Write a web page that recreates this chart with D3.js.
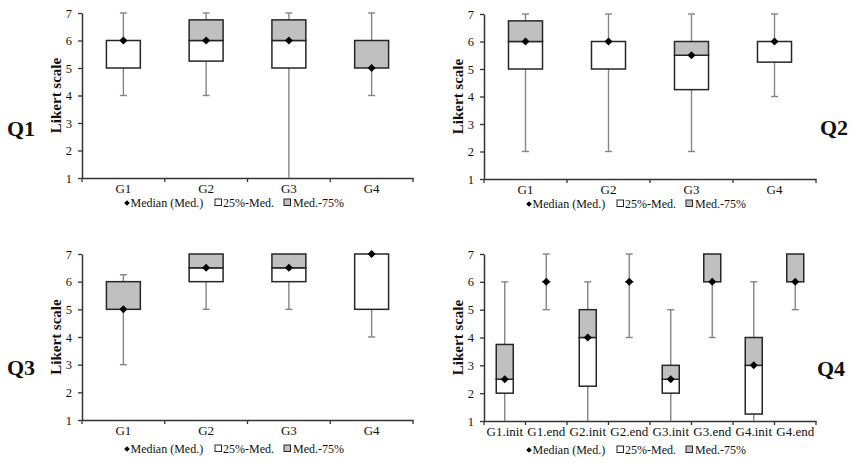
<!DOCTYPE html>
<html>
<head>
<meta charset="utf-8">
<script src="https://cdn.jsdelivr.net/npm/d3@7"></script>
<style>
  body { margin: 0; background: #fff; }
  svg text { font-family: "Liberation Serif", "Times New Roman", serif; fill: #111; }
</style>
</head>
<body>
<div id="chart"></div>
<script>
var svgWidth = 856;
var svgHeight = 463;
var serif = "'Liberation Serif', 'Times New Roman', serif";

// categories
var groups = ["G1", "G2", "G3", "G4"];
var groupsQ4 = ["G1.init", "G1.end", "G2.init", "G2.end", "G3.init", "G3.end", "G4.init", "G4.end"];
var yTicks = [1, 2, 3, 4, 5, 6, 7];
var legendLabels = ["Median (Med.)", "25%-Med.", "Med.-75%"];

// Q1
var q1Min = [4, 4, 1, 4];
var q1Low = [5, 5.25, 5, 5];
var q1Med = [6, 6, 6, 5];
var q1High = [6, 6.75, 6.75, 6];
var q1Max = [7, 7, 7, 7];

// Q2
var q2Min = [2, 2, 2, 4];
var q2Low = [5, 5, 4.25, 5.25];
var q2Med = [6, 6, 5.5, 6];
var q2High = [6.75, 6, 6, 6];
var q2Max = [7, 7, 7, 7];

// Q3
var q3Min = [3, 5, 5, 4];
var q3Low = [5, 6, 6, 5];
var q3Med = [5, 6.5, 6.5, 7];
var q3High = [6, 7, 7, 7];
var q3Max = [6.25, 7, 7, 7];

// Q4
var q4Min = [1, 5, 1, 4, 1, 4, 1, 5];
var q4Low = [2, 6, 2.25, 6, 2, 6, 1.25, 6];
var q4Med = [2.5, 6, 4, 6, 2.5, 6, 3, 6];
var q4High = [3.75, 6, 5, 6, 3, 7, 4, 7];
var q4Max = [6, 7, 6, 7, 5, 7, 6, 7];

var greyFill = "#c0c0c0";
var boxStroke = "#262626";
var whiskerColor = "#858585";

var svg = d3.select("#chart")
    .append("svg")
    .attr("width", svgWidth)
    .attr("height", svgHeight);

function buildRows(cats, mins, lows, meds, highs, maxs) {
    return cats.map(function(c, i) {
        return {cat: c, min: mins[i], low: lows[i], med: meds[i], high: highs[i], max: maxs[i]};
    });
}

// rotated square, like the Excel marker
function diamond(r) {
    return "M0," + (-r) + "L" + r + ",0L0," + r + "L" + (-r) + ",0Z";
}

var panels = [
    {name: "Q1", rows: buildRows(groups, q1Min, q1Low, q1Med, q1High, q1Max),
     x0: 82, x1: 413, y0: 13, y1: 178, labelX: 7, labelY: 128, titleX: 56, legendY: 207},
    {name: "Q2", rows: buildRows(groups, q2Min, q2Low, q2Med, q2High, q2Max),
     x0: 484, x1: 816, y0: 14, y1: 179, labelX: 820, labelY: 127, titleX: 458, legendY: 208},
    {name: "Q3", rows: buildRows(groups, q3Min, q3Low, q3Med, q3High, q3Max),
     x0: 82, x1: 413, y0: 254, y1: 420, labelX: 7, labelY: 367, titleX: 56, legendY: 453},
    {name: "Q4", rows: buildRows(groupsQ4, q4Min, q4Low, q4Med, q4High, q4Max),
     x0: 484, x1: 816, y0: 254, y1: 421, labelX: 817, labelY: 368, titleX: 458, legendY: 454}
];

panels.forEach(function(p) {
    var g = svg.append("g");

    var xScale = d3.scaleBand()
        .domain(p.rows.map(function(d) { return d.cat; }))
        .range([p.x0, p.x1])
        .paddingInner(0)
        .paddingOuter(0);

    var yScale = d3.scaleLinear()
        .domain([1, 7])
        .range([p.y1, p.y0]);

    var boxW = xScale.bandwidth() * 0.41;
    var capW = 7;

    // y axis
    var leftAxis = d3.axisLeft(yScale)
        .tickValues(yTicks)
        .tickSize(4)
        .tickSizeOuter(0)
        .tickPadding(6)
        .tickFormat(d3.format("d"));
    var yAxis = g.append("g")
        .attr("transform", "translate(" + p.x0 + ",0)")
        .call(leftAxis);
    yAxis.select(".domain").attr("stroke", "#333").attr("stroke-width", 1.5);
    yAxis.selectAll(".tick line").attr("stroke", "#333").attr("stroke-width", 1.3);
    yAxis.selectAll(".tick text")
        .style("font-family", serif)
        .style("font-size", "12.5px")
        .attr("fill", "#111");

    // x axis: labels from band scale, ticks on band edges
    var bottomAxis = d3.axisBottom(xScale).tickSize(0).tickPadding(6);
    var xAxis = g.append("g")
        .attr("transform", "translate(0," + p.y1 + ")")
        .call(bottomAxis);
    xAxis.select(".domain").attr("stroke", "#333").attr("stroke-width", 1.5);
    xAxis.selectAll(".tick text")
        .style("font-family", serif)
        .style("font-size", "13px")
        .attr("fill", "#111");

    var edges = p.rows.map(function(d) { return xScale(d.cat); }).concat([p.x1]);
    g.selectAll(".edge")
        .data(edges)
        .enter()
        .append("line")
        .attr("x1", function(d) { return d; })
        .attr("x2", function(d) { return d; })
        .attr("y1", p.y1)
        .attr("y2", p.y1 + 4)
        .attr("stroke", "#333")
        .attr("stroke-width", 1.3);

    var boxes = g.selectAll(".box")
        .data(p.rows)
        .enter()
        .append("g");

    function cx(d) { return xScale(d.cat) + xScale.bandwidth() / 2; }

    // whiskers
    boxes.append("line")
        .attr("x1", cx).attr("x2", cx)
        .attr("y1", function(d) { return yScale(d.max); })
        .attr("y2", function(d) { return yScale(d.high); })
        .attr("stroke", whiskerColor).attr("stroke-width", 1.4);
    boxes.append("line")
        .attr("x1", cx).attr("x2", cx)
        .attr("y1", function(d) { return yScale(d.low); })
        .attr("y2", function(d) { return yScale(d.min); })
        .attr("stroke", whiskerColor).attr("stroke-width", 1.4);
    boxes.filter(function(d) { return d.max > d.high; })
        .append("line")
        .attr("x1", function(d) { return cx(d) - capW / 2; })
        .attr("x2", function(d) { return cx(d) + capW / 2; })
        .attr("y1", function(d) { return yScale(d.max); })
        .attr("y2", function(d) { return yScale(d.max); })
        .attr("stroke", whiskerColor).attr("stroke-width", 1.4);
    boxes.filter(function(d) { return d.min < d.low && d.min > 1; })
        .append("line")
        .attr("x1", function(d) { return cx(d) - capW / 2; })
        .attr("x2", function(d) { return cx(d) + capW / 2; })
        .attr("y1", function(d) { return yScale(d.min); })
        .attr("y2", function(d) { return yScale(d.min); })
        .attr("stroke", whiskerColor).attr("stroke-width", 1.4);

    // 25%-Med. part (white)
    boxes.filter(function(d) { return d.med > d.low; })
        .append("rect")
        .attr("x", function(d) { return cx(d) - boxW / 2; })
        .attr("width", boxW)
        .attr("y", function(d) { return yScale(d.med); })
        .attr("height", function(d) { return yScale(d.low) - yScale(d.med); })
        .attr("fill", "#fff")
        .attr("stroke", boxStroke)
        .attr("stroke-width", 1.5);

    // Med.-75% part (grey)
    boxes.filter(function(d) { return d.high > d.med; })
        .append("rect")
        .attr("x", function(d) { return cx(d) - boxW / 2; })
        .attr("width", boxW)
        .attr("y", function(d) { return yScale(d.high); })
        .attr("height", function(d) { return yScale(d.med) - yScale(d.high); })
        .attr("fill", greyFill)
        .attr("stroke", boxStroke)
        .attr("stroke-width", 1.5);

    // flat box (all quartiles equal)
    boxes.filter(function(d) { return d.high === d.low; })
        .append("line")
        .attr("x1", function(d) { return cx(d) - capW / 2 - 1; })
        .attr("x2", function(d) { return cx(d) + capW / 2 + 1; })
        .attr("y1", function(d) { return yScale(d.med); })
        .attr("y2", function(d) { return yScale(d.med); })
        .attr("stroke", whiskerColor).attr("stroke-width", 1.4);

    // median marker
    boxes.append("path")
        .attr("d", diamond(4))
        .attr("transform", function(d) { return "translate(" + cx(d) + "," + yScale(d.med) + ")"; })
        .attr("fill", "#000");

    // y title
    g.append("text")
        .attr("transform", "translate(" + p.titleX + "," + ((p.y0 + p.y1) / 2) + ") rotate(-90)")
        .attr("text-anchor", "middle")
        .attr("dominant-baseline", "central")
        .style("font-family", serif)
        .style("font-size", "15px")
        .style("font-weight", "bold")
        .text("Likert scale");

    // panel label
    g.append("text")
        .attr("x", p.labelX)
        .attr("y", p.labelY)
        .attr("dominant-baseline", "central")
        .style("font-family", serif)
        .style("font-size", "22px")
        .style("font-weight", "bold")
        .text(p.name);

    // legend
    var lx = p.x0 + 45;
    var legend = g.append("g").attr("transform", "translate(" + lx + "," + p.legendY + ")");
    legend.append("path")
        .attr("d", diamond(2.8))
        .attr("transform", "translate(0,-4)")
        .attr("fill", "#000");
    legend.append("text").attr("x", 3.5)
        .style("font-family", serif).style("font-size", "12px").text(legendLabels[0]);
    legend.append("rect")
        .attr("x", 88).attr("y", -8).attr("width", 6.5).attr("height", 6.5)
        .attr("fill", "#fff").attr("stroke", boxStroke).attr("stroke-width", 1);
    legend.append("text").attr("x", 96)
        .style("font-family", serif).style("font-size", "12px").text(legendLabels[1]);
    legend.append("rect")
        .attr("x", 157).attr("y", -8).attr("width", 6.5).attr("height", 6.5)
        .attr("fill", greyFill).attr("stroke", boxStroke).attr("stroke-width", 1);
    legend.append("text").attr("x", 166)
        .style("font-family", serif).style("font-size", "12px").text(legendLabels[2]);
});
</script>
</body>
</html>
